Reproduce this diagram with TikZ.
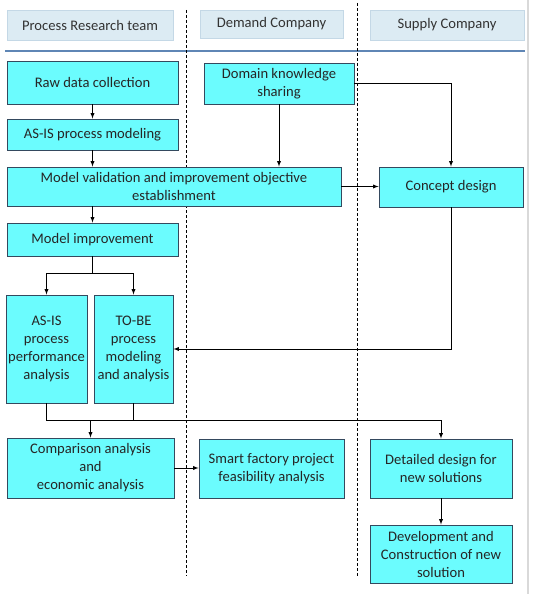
\documentclass[tikz,border=0pt]{standalone}
\usepackage{fontspec}
\setmainfont{Carlito}
\usepackage{tikz}
\usetikzlibrary{calc}

\definecolor{boxfill}{HTML}{6BFCFE}
\definecolor{boxline}{HTML}{34495E}
\definecolor{headfill}{HTML}{DCEBF3}
\definecolor{headline}{HTML}{C4D8E6}
\definecolor{rule}{HTML}{5F86B5}

\tikzset{
  box/.style={draw=boxline, fill=boxfill, line width=0.9pt, align=center, inner sep=1pt,
    text=black!85, font=\fontsize{14.6}{18}\selectfont},
  head/.style={draw=headline, fill=headfill, line width=0.8pt, align=center, inner sep=1pt,
    text=black!80, font=\fontsize{14.6}{18}\selectfont},
  arr/.style={-latex, line width=0.9pt},
  lane/.style={dashed, line width=0.7pt, dash pattern=on 3pt off 2pt},
}

\begin{document}
\begin{tikzpicture}[x=1pt,y=-1pt]
    \useasboundingbox (0,0) rectangle (535,594);
    % lanes
    \node[head, minimum width=166pt, minimum height=30pt] (hteam) at (90,25) {Process Research team};
    \node[head, minimum width=143pt, minimum height=28pt] (hdemand) at (271.5,24) {Demand Company};
    \node[head, minimum width=154pt, minimum height=30pt] (hsupply) at (447,25) {Supply Company};
    \draw[rule, line width=2pt] (5,51) -- (525,51);
    \draw[lane] (186,10) -- (186,576);
    \draw[lane] (357,3) -- (357,576);
    \draw[black!15, line width=1.5pt] (528,0) -- (528,594);

    % process research team
    \node[box, minimum width=171pt, minimum height=43pt] (raw) at (92.5,82.5) {Raw data collection};
    \node[box, minimum width=171pt, minimum height=31pt] (asis) at (92.5,134.5) {AS-IS process modeling};
    \node[box, minimum width=334pt, minimum height=39pt] (valid) at (174,186.5) {Model validation and improvement objective\\establishment};
    \node[box, minimum width=171pt, minimum height=33pt] (improve) at (92.5,239.5) {Model improvement};
    \node[box, minimum width=81pt, minimum height=108pt] (perf) at (46.5,349) {AS-IS\\process\\performance\\analysis};
    \node[box, minimum width=79pt, minimum height=108pt] (tobe) at (133.5,349) {TO-BE\\process\\modeling\\and analysis};
    \node[box, minimum width=167pt, minimum height=60pt] (comp) at (90.5,468) {Comparison analysis\\and\\economic analysis};

    % demand company
    \node[box, minimum width=150pt, minimum height=41pt] (domain) at (279,83.5) {Domain knowledge\\sharing};
    \node[box, minimum width=145pt, minimum height=59pt] (smart) at (271.5,468.5) {Smart factory project\\feasibility analysis};

    % supply company
    \node[box, minimum width=144pt, minimum height=40pt] (concept) at (451,187) {Concept design};
    \node[box, minimum width=142pt, minimum height=59pt] (detail) at (441,468.5) {Detailed design for\\new solutions};
    \node[box, minimum width=142pt, minimum height=58pt] (devel) at (441,554) {Development and\\Construction of new\\solution};

    % connectors
    \draw[arr] (raw) -- (asis);
    \draw[arr] (asis.south) -- (asis.south |- valid.north);
    \draw[arr] (domain.south) -- (domain.south |- valid.north);
    \draw[arr] (domain.east) -| (concept.north);
    \draw[arr] (valid.east) -- (valid.east -| concept.west);
    \draw[arr] (improve.north |- valid.south) -- (improve.north);
    \draw (improve.south) -- ++(0,17) coordinate (split);
    \draw[arr] (split) -| (perf.north);
    \draw[arr] (split) -| (tobe.north);
    \draw[arr] (concept.south) |- (tobe.east);
    \draw (perf.south) -- ++(0,17) coordinate (join) -- (join -| detail.north);
    \draw (tobe.south) -- (tobe.south |- join);
    \draw[arr] (comp.north |- join) -- (comp.north);
    \draw[arr] (detail.north |- join) -- (detail.north);
    \draw[arr] (comp.east) -- (comp.east -| smart.west);
    \draw[arr] (detail) -- (devel);
\end{tikzpicture}
\end{document}
